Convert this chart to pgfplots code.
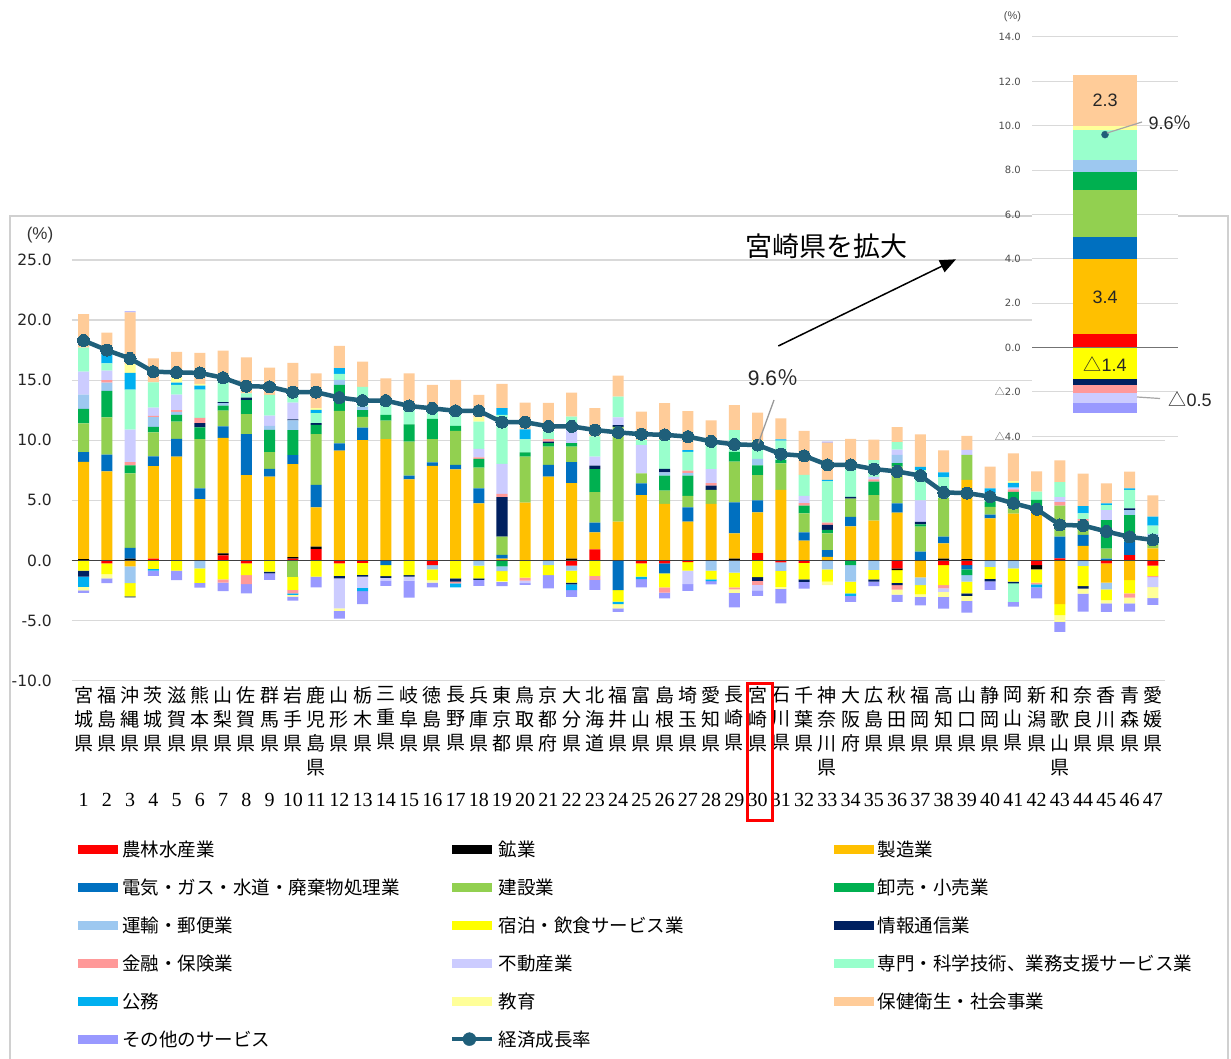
\documentclass[border=0pt]{standalone}
\usepackage{pgfplots}
\pgfplotsset{compat=1.18}
\usepackage{pgfplotstable}
\usetikzlibrary{arrows.meta}
\usepackage{fontspec}
\setmainfont{Noto Sans CJK JP}
\newfontfamily\jp{Noto Sans CJK JP}
\newfontfamily\ls{Liberation Sans}
\newfontfamily\lsr{Liberation Serif}
\newfontfamily\dv{DejaVu Sans}

\definecolor{cAg}{HTML}{FF0000}
\definecolor{cMi}{HTML}{000000}
\definecolor{cMf}{HTML}{FFC000}
\definecolor{cEl}{HTML}{0070C0}
\definecolor{cCo}{HTML}{92D050}
\definecolor{cWh}{HTML}{00B050}
\definecolor{cTr}{HTML}{9DC8F0}
\definecolor{cAc}{HTML}{FFFF00}
\definecolor{cIc}{HTML}{002060}
\definecolor{cFi}{HTML}{FF9999}
\definecolor{cRe}{HTML}{CCCCFF}
\definecolor{cPr}{HTML}{99FFCC}
\definecolor{cPa}{HTML}{00B0F0}
\definecolor{cEd}{HTML}{FFFF99}
\definecolor{cHe}{HTML}{FFCC99}
\definecolor{cOt}{HTML}{9999FF}
\definecolor{cLine}{HTML}{1F5F7A}
\definecolor{cGrid}{HTML}{D9D9D9}
\definecolor{cFrame}{HTML}{D0D0D0}

% i: rank, ag..ot: contributions (percentage points), g: growth rate (%)
\pgfplotstableread{
i ag mi mf el co wh tr ac ic fi re pr pa ed he ot g
1 0 0.1 8.1 0.8 2.4 1.2 1.2 -0.85 -0.5 0 1.9 2.0 -0.85 -0.3 2.8 -0.2 18.3
2 -0.25 0 7.4 1.4 3.1 2.2 0.7 -0.9 0 0.2 0.8 0.6 0.8 -0.35 1.75 -0.4 17.5
3 0 0.15 -0.5 0.9 6.2 0.65 -1.4 -1.1 -0.08 0.28 2.7 3.33 1.39 0.75 4.3 0.08 16.8
4 0.15 0 7.7 0.8 2.0 0.47 0.8 -0.7 0 0.1 0.7 2.1 -0.15 0 2.0 -0.45 15.7
5 0 0 8.64 1.47 1.44 0.56 0.25 -0.86 0 0.14 1.3 0.8 0.2 0.4 2.15 -0.78 15.65
6 0 0 5.1 0.9 4.1 0.97 -0.67 -1.2 0.36 0.42 0 2.36 0.33 0.15 2.58 -0.4 15.6
7 0.42 0.17 9.6 0.97 1.3 0.42 0.2 -1.58 0.1 -0.28 0 2.28 0 0 2.0 -0.7 15.2
8 -0.25 0 7.1 3.4 1.67 1.17 0 -0.97 0.2 -0.75 0 0.36 0 0 3.0 -0.78 14.5
9 0 0 6.97 0.64 1.39 1.86 0.33 -0.94 -0.14 0 0.86 1.72 0 0 2.28 -0.55 14.45
10 0.15 0.12 7.75 0.75 -1.36 2.08 0.8 -1.1 0.08 -0.28 1.4 0.7 -0.14 -0.14 2.6 -0.33 14.0
11 0.94 0.2 3.28 1.86 4.22 0.78 0 -1.36 0.14 0 0 0.83 0.28 0.14 2.9 -0.89 14.0
12 -0.25 0 9.14 0.6 2.7 2.17 0.42 -1.05 -0.2 0 -2.5 0.5 0.47 -0.2 1.86 -0.64 13.55
13 -0.2 0 10.0 1.05 0.9 0.55 0.3 -1.0 -0.15 0 -0.95 1.65 -0.25 0 2.1 -1.1 13.3
14 0 0 10.1 -0.39 1.53 0.47 0 -0.92 -0.14 0 -0.25 0.83 0 0 2.22 -0.42 13.3
15 0 0 6.75 0.3 2.83 1.44 0 -1.22 -0.14 0 -0.33 1.33 0 0 2.92 -1.42 12.85
16 -0.39 0 7.86 0.3 1.94 1.67 -0.36 -0.89 0 0 0 0.89 0 -0.22 1.94 -0.39 12.65
17 0 0 7.58 0.36 2.83 0.42 0 -1.5 -0.28 -0.14 0 0.92 -0.33 0 2.92 0 12.45
18 0 0 4.75 1.25 1.72 0.72 -0.44 -1.05 -0.14 0.14 0.69 2.28 0 0.36 1.86 -0.5 12.45
19 0 0 0.15 0.3 1.53 -0.5 -0.4 -0.8 3.28 0.28 2.5 4.08 0.56 -0.1 2.0 -0.35 11.5
20 0 0 4.8 0 3.83 0.36 0 -1.44 0 -0.25 -0.2 1.08 0.83 0 2.22 -0.14 11.5
21 0 0 6.97 0.97 1.53 0.28 -0.39 -0.83 0.14 0.2 0 0.64 0 0.2 2.17 -1.11 11.15
22 -0.44 0.14 6.28 1.75 1.3 0.28 -0.42 -1.0 -0.14 0 1.11 1.11 -0.47 0 2.0 -0.56 11.15
23 0.92 0 1.42 0.8 2.53 1.92 0 -1.3 0.3 -0.33 0.75 1.67 0 0 2.36 -0.83 10.85
24 0 0 3.22 -2.47 7.9 0 0 -0.97 0.14 0 0.64 1.72 -0.2 -0.36 1.75 -0.28 10.65
25 -0.25 0 5.44 0.97 0.83 0 0 -1.1 0 0 2.36 0.42 -0.22 0 2.36 -0.67 10.5
26 -0.25 0 4.7 -0.83 1.1 1.25 0.28 -1.17 0.28 -0.44 0 2.42 0 0 3.06 -0.47 10.45
27 -0.14 0 3.22 1.2 0.94 1.7 0.2 -0.72 0 0.2 -1.11 1.58 0.14 0 3.25 -0.56 10.3
28 0 0 4.7 0 1.17 0 -0.86 -0.72 0.36 0.2 1.17 2.03 -0.14 0 2.03 -0.28 9.9
29 0 0.14 2.1 2.58 3.39 0.83 -1.03 -1.22 0 -0.17 0 1.8 0 -0.28 2.08 -1.22 9.65
30 0.6 0 3.4 1.0 2.1 0.8 0.55 -1.4 -0.3 -0.35 -0.45 1.35 0 0.2 2.3 -0.45 9.6
31 -0.17 0 5.86 0 2.22 0.28 -0.7 -1.33 0 0 0 1.61 0.1 -0.17 1.75 -1.22 8.85
32 -0.2 0 1.64 0.7 1.58 0.64 0 -1.39 -0.2 0.2 0.6 1.75 0 0 3.67 -0.56 8.7
33 0 0 0.3 0.56 1.39 0.28 -0.75 -1.03 0.42 0.2 0 3.42 0.14 -0.28 3.1 0.08 7.95
34 0 0 2.83 0.78 1.53 -0.39 -1.39 -0.97 0.14 0 0 2.64 -0.2 0 2.2 -0.5 7.95
35 0 0 3.3 0 2.14 1.11 -0.8 -0.78 -0.2 0.2 0.2 1.39 0 0 1.72 -0.36 7.6
36 -0.67 -0.14 3.97 0.78 3.06 0.28 0.7 -1.06 -0.2 -0.36 0.42 0.64 0 -0.42 1.25 -0.6 7.4
37 0 0 -1.42 0.72 2.08 0.2 -0.64 -0.78 0.2 0 1.8 2.5 0.28 -0.2 2.7 -0.7 7.05
38 -0.39 0.14 1.28 0.56 3.2 0 0 -1.67 0 -0.28 -0.28 1.72 0.42 -0.42 1.83 -0.97 5.65
39 -0.39 0.1 6.6 -0.36 2.08 -0.47 -0.56 -0.97 -0.2 0 0.42 0 0 -0.42 1.17 -0.97 5.6
40 0 0 3.5 0.3 0.65 0.45 -0.55 -1.0 -0.2 0 0 0.7 0.4 0 1.8 -0.7 5.3
41 0 0 3.9 0 0.4 1.4 -0.67 -1.1 -0.14 0.2 0.15 -1.53 0.4 0.15 2.3 -0.42 4.75
42 -0.39 -0.36 4.47 0 0 0.56 0 -1.1 0 -0.14 0 0.7 -0.25 0 1.67 -0.92 4.25
43 0.17 0 -3.64 1.8 2.58 0 0 -0.92 0 0.3 0.42 1.25 0 -0.56 1.8 -0.83 2.95
44 0 0 1.2 0.92 0.42 0.7 -0.45 -1.7 -0.2 0.2 0 0.47 0.6 -0.42 2.72 -1.5 2.9
45 -0.25 0 -1.61 0.15 0.83 2.36 -0.56 -0.89 0 0 0.84 0.42 0.14 -0.28 1.67 -0.7 2.4
46 0.44 0 -1.64 1.11 0 2.22 0.42 -1.1 0.14 -0.36 0 1.53 0.14 -0.47 1.39 -0.7 1.95
47 -0.44 0 1.0 0 0.3 0.6 0.3 -0.86 0 -0.1 -0.83 0.7 0.75 -0.92 1.75 -0.56 1.7
}\data

\pgfplotsset{
  geom/.style={scale only axis, width=1092.7pt, height=420.5pt,
    at={(71.9pt,-680.5pt)}, anchor=south west,
    xmin=0.5, xmax=47.5, ymin=-10, ymax=25,
    axis line style={draw=none}, tick style={draw=none}},
  ingeom/.style={scale only axis, width=146pt, height=399.3pt,
    at={(1032pt,-436.3pt)}, anchor=south west,
    xmin=29.5, xmax=30.5, ymin=-4, ymax=14,
    restrict x to domain=29.5:30.5,
    axis line style={draw=none}, tick style={draw=none}},
  bl/.style={draw=none, fill=#1,
    legend image code/.code={\fill[#1] (0pt,-4.5pt) rectangle (40pt,4.5pt);}},
}
\newcommand{\pp}[2]{\addplot[bl=#2] table[x=i, y expr={max(\thisrow{#1},0)}] {\data};}
\newcommand{\np}[2]{\addplot[bl=#2] table[x=i, y expr={min(\thisrow{#1},0)}] {\data};}
\newcommand{\lgdA}[1]{\makebox[326pt][l]{#1}}
\newcommand{\lgdB}[1]{\makebox[333pt][l]{#1}}
\newcommand{\lgdC}[1]{\makebox[331pt][l]{#1}}
\newcommand{\tri}{{\jp △}}

\begin{document}
\begin{tikzpicture}
\path[use as bounding box] (0pt,0pt) rectangle (1231pt,-1059pt);
\fill[white] (0pt,0pt) rectangle (1231pt,-1059pt);
\draw[cFrame, line width=1.8pt] (10pt,-1075pt) -- (10pt,-216pt) -- (1228.3pt,-216pt) -- (1228.3pt,-1075pt);

% ---------- main chart: positive contributions ----------
\begin{axis}[geom, ybar stacked, bar width=11pt,
  ytick={-10,-5,0,5,10,15,20,25},
  yticklabels={-10.0,-5.0,0.0,5.0,10.0,15.0,20.0,25.0},
  ymajorgrids, grid style={cGrid, line width=1.3pt},
  yticklabel style={font=\dv\fontsize{15.5}{16}\selectfont, text=black!85, inner sep=0pt, anchor=east, xshift=-19.9pt},
  xtick={1,...,47},
  xticklabels={{宮\\城\\県},{福\\島\\県},{沖\\縄\\県},{茨\\城\\県},{滋\\賀\\県},{熊\\本\\県},{山\\梨\\県},{佐\\賀\\県},{群\\馬\\県},{岩\\手\\県},{鹿\\児\\島\\県},{山\\形\\県},{栃\\木\\県},{三\\重\\県},{岐\\阜\\県},{徳\\島\\県},{長\\野\\県},{兵\\庫\\県},{東\\京\\都},{鳥\\取\\県},{京\\都\\府},{大\\分\\県},{北\\海\\道},{福\\井\\県},{富\\山\\県},{島\\根\\県},{埼\\玉\\県},{愛\\知\\県},{長\\崎\\県},{宮\\崎\\県},{石\\川\\県},{千\\葉\\県},{神\\奈\\川\\県},{大\\阪\\府},{広\\島\\県},{秋\\田\\県},{福\\岡\\県},{高\\知\\県},{山\\口\\県},{静\\岡\\県},{岡\\山\\県},{新\\潟\\県},{和\\歌\\山\\県},{奈\\良\\県},{香\\川\\県},{青\\森\\県},{愛\\媛\\県}},
  xticklabel style={font=\jp\fontsize{19}{24}\selectfont, align=center, inner sep=0pt, anchor=north, yshift=-6pt},
  legend columns=3,
  legend cell align=left,
  legend style={draw=none, fill=none, at={(0.00558,-0.3769)}, anchor=north west,
    inner xsep=0pt, inner ysep=0pt,
    font=\jp\fontsize{18.5}{18.5}\selectfont,
    /tikz/every odd column/.style={column sep=2pt},
    /tikz/every even column/.style={column sep=0pt},
    row sep=16.8pt},
]
\pp{ag}{cAg}\addlegendentry{\lgdA{農林水産業}}
\pp{mi}{cMi}\addlegendentry{\lgdB{鉱業}}
\pp{mf}{cMf}\addlegendentry{\lgdC{製造業}}
\pp{el}{cEl}\addlegendentry{\lgdA{電気・ガス・水道・廃棄物処理業}}
\pp{co}{cCo}\addlegendentry{\lgdB{建設業}}
\pp{wh}{cWh}\addlegendentry{\lgdC{卸売・小売業}}
\pp{tr}{cTr}\addlegendentry{\lgdA{運輸・郵便業}}
\pp{ac}{cAc}\addlegendentry{\lgdB{宿泊・飲食サービス業}}
\pp{ic}{cIc}\addlegendentry{\lgdC{情報通信業}}
\pp{fi}{cFi}\addlegendentry{\lgdA{金融・保険業}}
\pp{re}{cRe}\addlegendentry{\lgdB{不動産業}}
\pp{pr}{cPr}\addlegendentry{\lgdC{専門・科学技術、業務支援サービス業}}
\pp{pa}{cPa}\addlegendentry{\lgdA{公務}}
\pp{ed}{cEd}\addlegendentry{\lgdB{教育}}
\pp{he}{cHe}\addlegendentry{\lgdC{保健衛生・社会事業}}
\pp{ot}{cOt}\addlegendentry{\lgdA{その他のサービス}}
\addlegendimage{legend image code/.code={\draw[cLine, line width=4.5pt] (0pt,0pt) -- (40pt,0pt); \fill[cLine] (17pt,0pt) circle (6.5pt);}}
\addlegendentry{\lgdB{経済成長率}}
\end{axis}

% ---------- main chart: negative contributions ----------
\begin{axis}[geom, ybar stacked, bar width=11pt, ytick=\empty,
  xtick={1,...,47},
  xticklabels={1,2,3,4,5,6,7,8,9,10,11,12,13,14,15,16,17,18,19,20,21,22,23,24,25,26,27,28,29,30,31,32,33,34,35,36,37,38,39,40,41,42,43,44,45,46,47},
  xticklabel style={font=\lsr\fontsize{20}{20}\selectfont, inner sep=0pt, anchor=north, yshift=-112.8pt},
]
\np{ag}{cAg}\np{mi}{cMi}\np{mf}{cMf}\np{el}{cEl}\np{co}{cCo}\np{wh}{cWh}\np{tr}{cTr}\np{ac}{cAc}
\np{ic}{cIc}\np{fi}{cFi}\np{re}{cRe}\np{pr}{cPr}\np{pa}{cPa}\np{ed}{cEd}\np{he}{cHe}\np{ot}{cOt}
\end{axis}

% ---------- main chart: growth rate line ----------
\begin{axis}[geom, clip=false, xtick=\empty, ytick=\empty,
  extra y ticks={0}, extra y tick labels={},
  extra y tick style={grid=major, grid style={black!75, line width=1.3pt}}]
\addplot[cLine, line width=4.5pt, line join=round, mark=*, mark size=6pt,
  mark options={fill=cLine, draw=cLine, line width=0pt}] table[x=i, y=g] {\data};
\end{axis}

% ---------- inset: Miyazaki enlarged ----------
\begin{axis}[ingeom, ybar stacked, bar width=64pt,
  axis background/.style={fill=white},
  ytick={-4,-2,0,2,4,6,8,10,12,14},
  yticklabels={\tri4.0,\tri2.0,0.0,2.0,4.0,6.0,8.0,10.0,12.0,14.0},
  ymajorgrids, grid style={cGrid, line width=1pt},
  yticklabel style={font=\dv\fontsize{10}{11}\selectfont, text=black!70, inner sep=0pt, anchor=east, xshift=-11pt},
  xtick=\empty]
\pp{ag}{cAg}\pp{mi}{cMi}\pp{mf}{cMf}\pp{el}{cEl}\pp{co}{cCo}\pp{wh}{cWh}\pp{tr}{cTr}\pp{ac}{cAc}
\pp{ic}{cIc}\pp{fi}{cFi}\pp{re}{cRe}\pp{pr}{cPr}\pp{pa}{cPa}\pp{ed}{cEd}\pp{he}{cHe}\pp{ot}{cOt}
\end{axis}
\begin{axis}[ingeom, ybar stacked, bar width=64pt, xtick=\empty, ytick=\empty]
\np{ag}{cAg}\np{mi}{cMi}\np{mf}{cMf}\np{el}{cEl}\np{co}{cCo}\np{wh}{cWh}\np{tr}{cTr}\np{ac}{cAc}
\np{ic}{cIc}\np{fi}{cFi}\np{re}{cRe}\np{pr}{cPr}\np{pa}{cPa}\np{ed}{cEd}\np{he}{cHe}\np{ot}{cOt}
\end{axis}
\begin{axis}[ingeom, clip=false, xtick=\empty, ytick=\empty,
  extra y ticks={0}, extra y tick labels={},
  extra y tick style={grid=major, grid style={black!55, line width=1.3pt}}]
\addplot[only marks, mark=*, mark size=3.5pt, mark options={fill=cLine, draw=cLine}] table[x=i, y=g] {\data};
\end{axis}

% ---------- annotations ----------
\node[font=\ls\fontsize{17}{17}\selectfont, text=black!80] at (40pt,-235.5pt) {(\%)};
\node[font=\ls\fontsize{11}{11}\selectfont, text=black!70] at (1012.5pt,-16.7pt) {(\%)};
\node[font=\jp\fontsize{27}{27}\selectfont] at (826.5pt,-246pt) {宮崎県を拡大};
\draw[-{Triangle[length=16pt,width=13pt]}, line width=1.5pt] (778.3pt,-346pt) -- (956pt,-259.3pt);
\node[font=\ls\fontsize{21}{21}\selectfont, text=black!85] at (773pt,-377.5pt) {9.6{\jp ％}};
\draw[gray!80, line width=1.3pt] (774pt,-400pt) -- (758.3pt,-443.3pt);
\draw[red, line width=3pt] (747pt,-683pt) rectangle (772pt,-820pt);
% inset labels
\node[font=\ls\fontsize{18}{18}\selectfont, text=black!85] at (1105pt,-100pt) {2.3};
\node[font=\ls\fontsize{18}{18}\selectfont, text=black!85] at (1105pt,-297pt) {3.4};
\node[font=\ls\fontsize{18}{18}\selectfont, text=black!85] at (1105pt,-364pt) {{\jp △}1.4};
\node[font=\ls\fontsize{18}{18}\selectfont, text=black!85] at (1170pt,-123pt) {9.6{\jp ％}};
\draw[gray!70, line width=1.2pt] (1107pt,-133pt) -- (1142pt,-122pt);
\node[font=\ls\fontsize{18}{18}\selectfont, text=black!85] at (1190pt,-399pt) {{\jp △}0.5};
\draw[gray!70, line width=1.2pt] (1137pt,-397pt) -- (1160pt,-398.5pt);
\end{tikzpicture}
\end{document}
